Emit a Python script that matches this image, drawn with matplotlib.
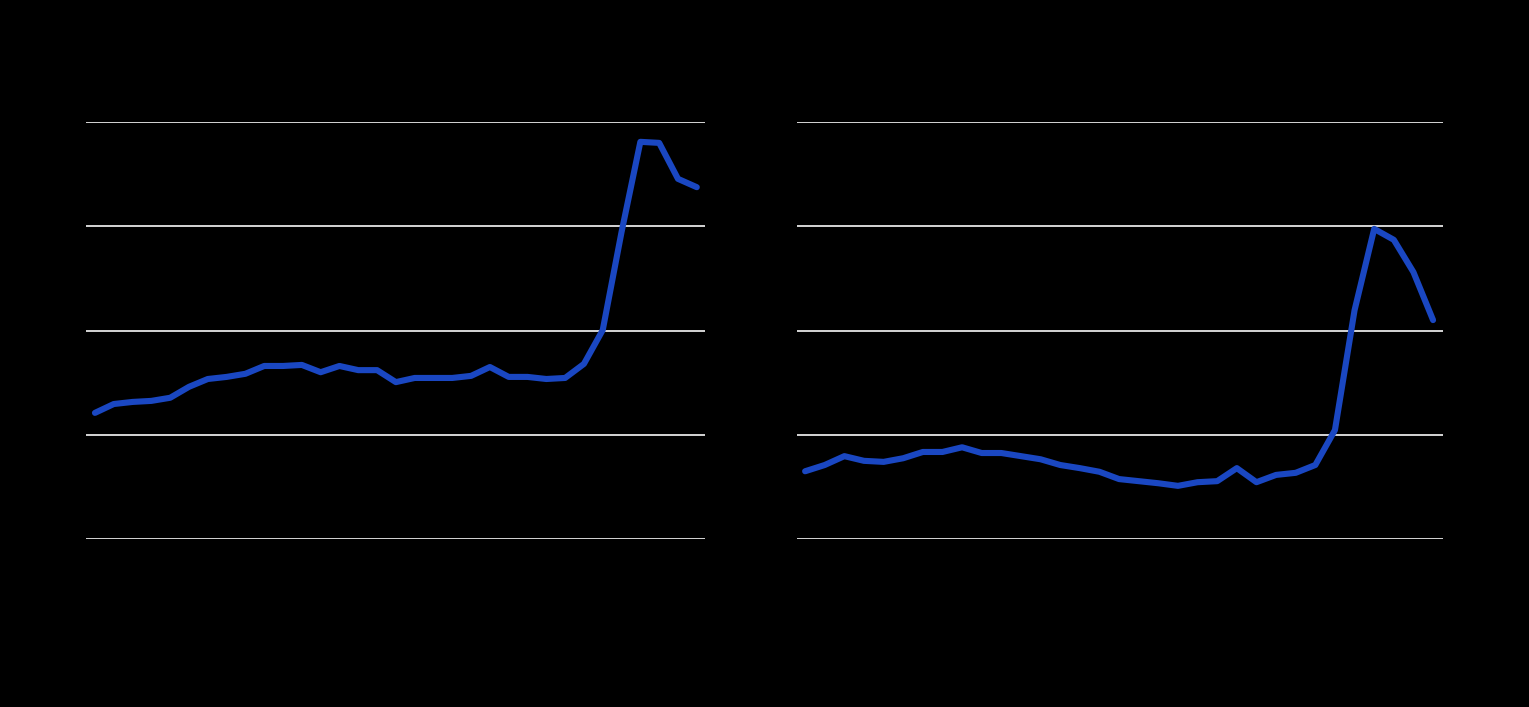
import numpy as np
import matplotlib.pyplot as plt

# values (33 periods each)
periods = np.arange(33)
left_values = [2.42, 2.59, 2.63, 2.65, 2.71, 2.92, 3.07, 3.11, 3.17, 3.32, 3.32,
               3.34, 3.20, 3.32, 3.24, 3.24, 3.01, 3.09, 3.09, 3.09, 3.13, 3.30,
               3.11, 3.11, 3.07, 3.09, 3.36, 4.01, 5.89, 7.62, 7.60, 6.91, 6.75]
right_values = [1.30, 1.42, 1.59, 1.50, 1.48, 1.55, 1.67, 1.67, 1.76, 1.65, 1.65,
                1.59, 1.53, 1.42, 1.36, 1.29, 1.15, 1.11, 1.07, 1.02, 1.09, 1.11,
                1.36, 1.09, 1.23, 1.27, 1.42, 2.09, 4.39, 5.95, 5.74, 5.12, 4.20]
y_ticks = [0, 2, 4, 6, 8]

line_color = '#1a47c2'
grid_color = '#e6e6e6'

fig = plt.figure(figsize=(15.29, 7.07), dpi=100, facecolor='black')
ax_left = fig.add_axes([0.0562, 0.2376, 0.4048, 0.5898])
ax_right = fig.add_axes([0.5213, 0.2376, 0.4225, 0.5898])

for ax, vals, xl in [(ax_left, left_values, (-0.48, 32.43)),
                     (ax_right, right_values, (-0.41, 32.51))]:
    ax.set_facecolor('black')
    ax.plot(periods, vals, color=line_color, lw=4.4, solid_capstyle='round',
            solid_joinstyle='round', zorder=3)
    for t in y_ticks:
        ax.axhline(t, color=grid_color, lw=1.3, zorder=1)
    ax.set_ylim(0, 8)
    ax.set_xlim(*xl)
    ax.set_xticks([])
    ax.set_yticks([])
    for s in ax.spines.values():
        s.set_visible(False)

fig.savefig('out.png', dpi=100, facecolor='black')
